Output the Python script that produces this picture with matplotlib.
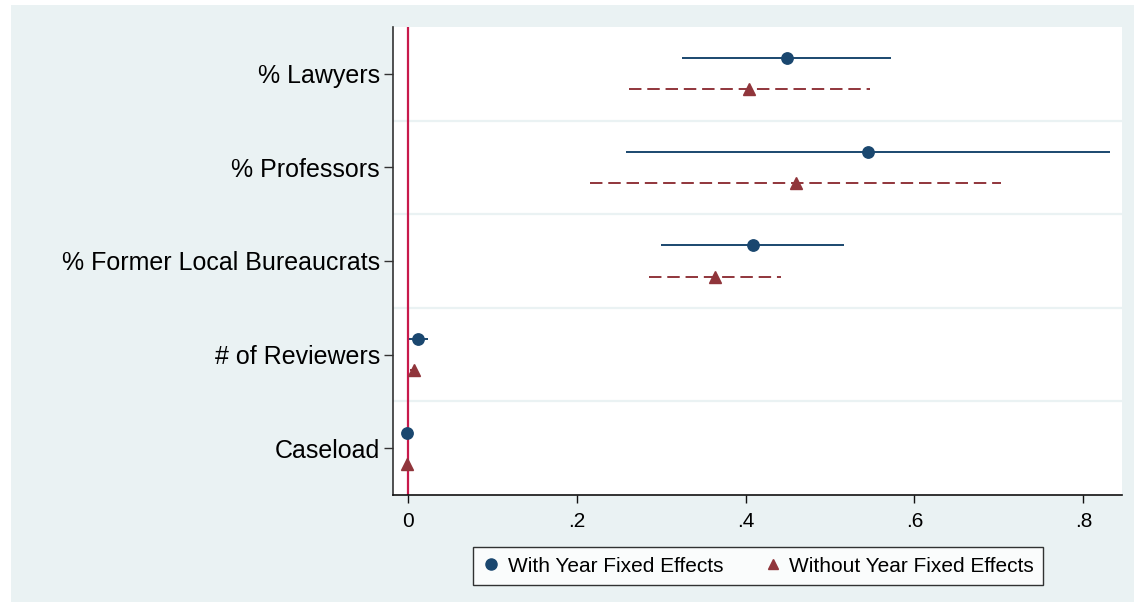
import matplotlib
matplotlib.use("Agg")
import matplotlib.pyplot as plt
from matplotlib.lines import Line2D
from matplotlib.patches import Rectangle
import numpy as np

plt.rcParams['font.family'] = ['Liberation Sans', 'DejaVu Sans']

categories = ["% Lawyers", "% Professors", "% Former Local Bureaucrats",
              "# of Reviewers", "Caseload"]

# With Year Fixed Effects
fe_coef = [0.449, 0.545, 0.409, 0.0126, -0.0005]
fe_lo   = [0.325, 0.259, 0.300, 0.0019, -0.0012]
fe_hi   = [0.572, 0.831, 0.517, 0.0244, 0.0002]

# Without Year Fixed Effects
nofe_coef = [0.4045, 0.4594, 0.3639, 0.0071, -0.0003]
nofe_lo   = [0.2617, 0.2159, 0.2861, 0.0030, -0.0010]
nofe_hi   = [0.5474, 0.7022, 0.4417, 0.0112, 0.0004]

xticks = [0, 0.2, 0.4, 0.6, 0.8]
xticklabels = ["0", ".2", ".4", ".6", ".8"]

blue = "#1A476F"
maroon = "#90353B"
bg = "#EAF2F3"

fig = plt.figure(figsize=(11.34, 6.02), dpi=100, facecolor="white")
fig.patches.append(Rectangle((11 / 1134, 0), 1 - 11 / 1134, 1 - 5 / 602,
                             transform=fig.transFigure, facecolor=bg,
                             edgecolor="none", zorder=-10))

ax = fig.add_axes([393.3 / 1134, 1 - 495 / 602, (1122 - 393.3) / 1134, (495 - 27) / 602])
ax.set_facecolor("white")

n = len(categories)
pos = np.arange(1, n + 1)
off = 0.167

# gridlines between categories
for g in np.arange(1.5, n, 1.0):
    ax.axhline(g, color=bg, lw=1.6, zorder=1)

ax.axvline(0, color="#C8194B", lw=1.6, zorder=2)

for i in range(n):
    y = pos[i] - off
    ax.plot([fe_lo[i], fe_hi[i]], [y, y], color=blue, lw=1.4, zorder=3,
            solid_capstyle="butt")
    ax.plot(fe_coef[i], y, marker="o", ms=8.2, color=blue, mec=blue, zorder=4,
            linestyle="none")
    y2 = pos[i] + off
    ax.plot([nofe_lo[i], nofe_hi[i]], [y2, y2], color=maroon, lw=1.4, zorder=3,
            linestyle=(0, (6.4, 3.0)), dash_capstyle="butt")
    ax.plot(nofe_coef[i], y2, marker="^", ms=8.0, color=maroon, mec=maroon,
            zorder=4, linestyle="none")

ax.set_ylim(n + 0.5, 0.5)
ax.set_xlim(-0.01705, 0.8458)
ax.set_yticks(pos)
ax.set_yticklabels(categories, fontsize=18)
ax.set_xticks(xticks)
ax.set_xticklabels(xticklabels, fontsize=15)

for s in ["top", "right"]:
    ax.spines[s].set_visible(False)
ax.spines["left"].set_color("#333333")
ax.spines["bottom"].set_color("#111111")
ax.spines["left"].set_linewidth(1.2)
ax.spines["bottom"].set_linewidth(1.2)
ax.tick_params(axis="y", length=6.5, width=1.0, pad=3, color="#333333")
ax.tick_params(axis="x", length=6, width=1.0, pad=6, color="#111111")

handles = [Line2D([], [], marker="o", color=blue, linestyle="none", ms=8),
           Line2D([], [], marker="^", color=maroon, linestyle="none", ms=7)]
leg = fig.legend(handles, ["With Year Fixed Effects", "Without Year Fixed Effects"],
                 ncol=2, loc="center", bbox_to_anchor=(758 / 1134, 1 - 566 / 602),
                 fontsize=15, frameon=True, fancybox=False, edgecolor="black",
                 handletextpad=0.35, columnspacing=1.9, handlelength=0.9,
                 borderpad=0.45, borderaxespad=0)
leg.get_frame().set_linewidth(1.0)
leg.get_frame().set_facecolor("white")

fig.savefig("out.png", dpi=100, facecolor=fig.get_facecolor())
